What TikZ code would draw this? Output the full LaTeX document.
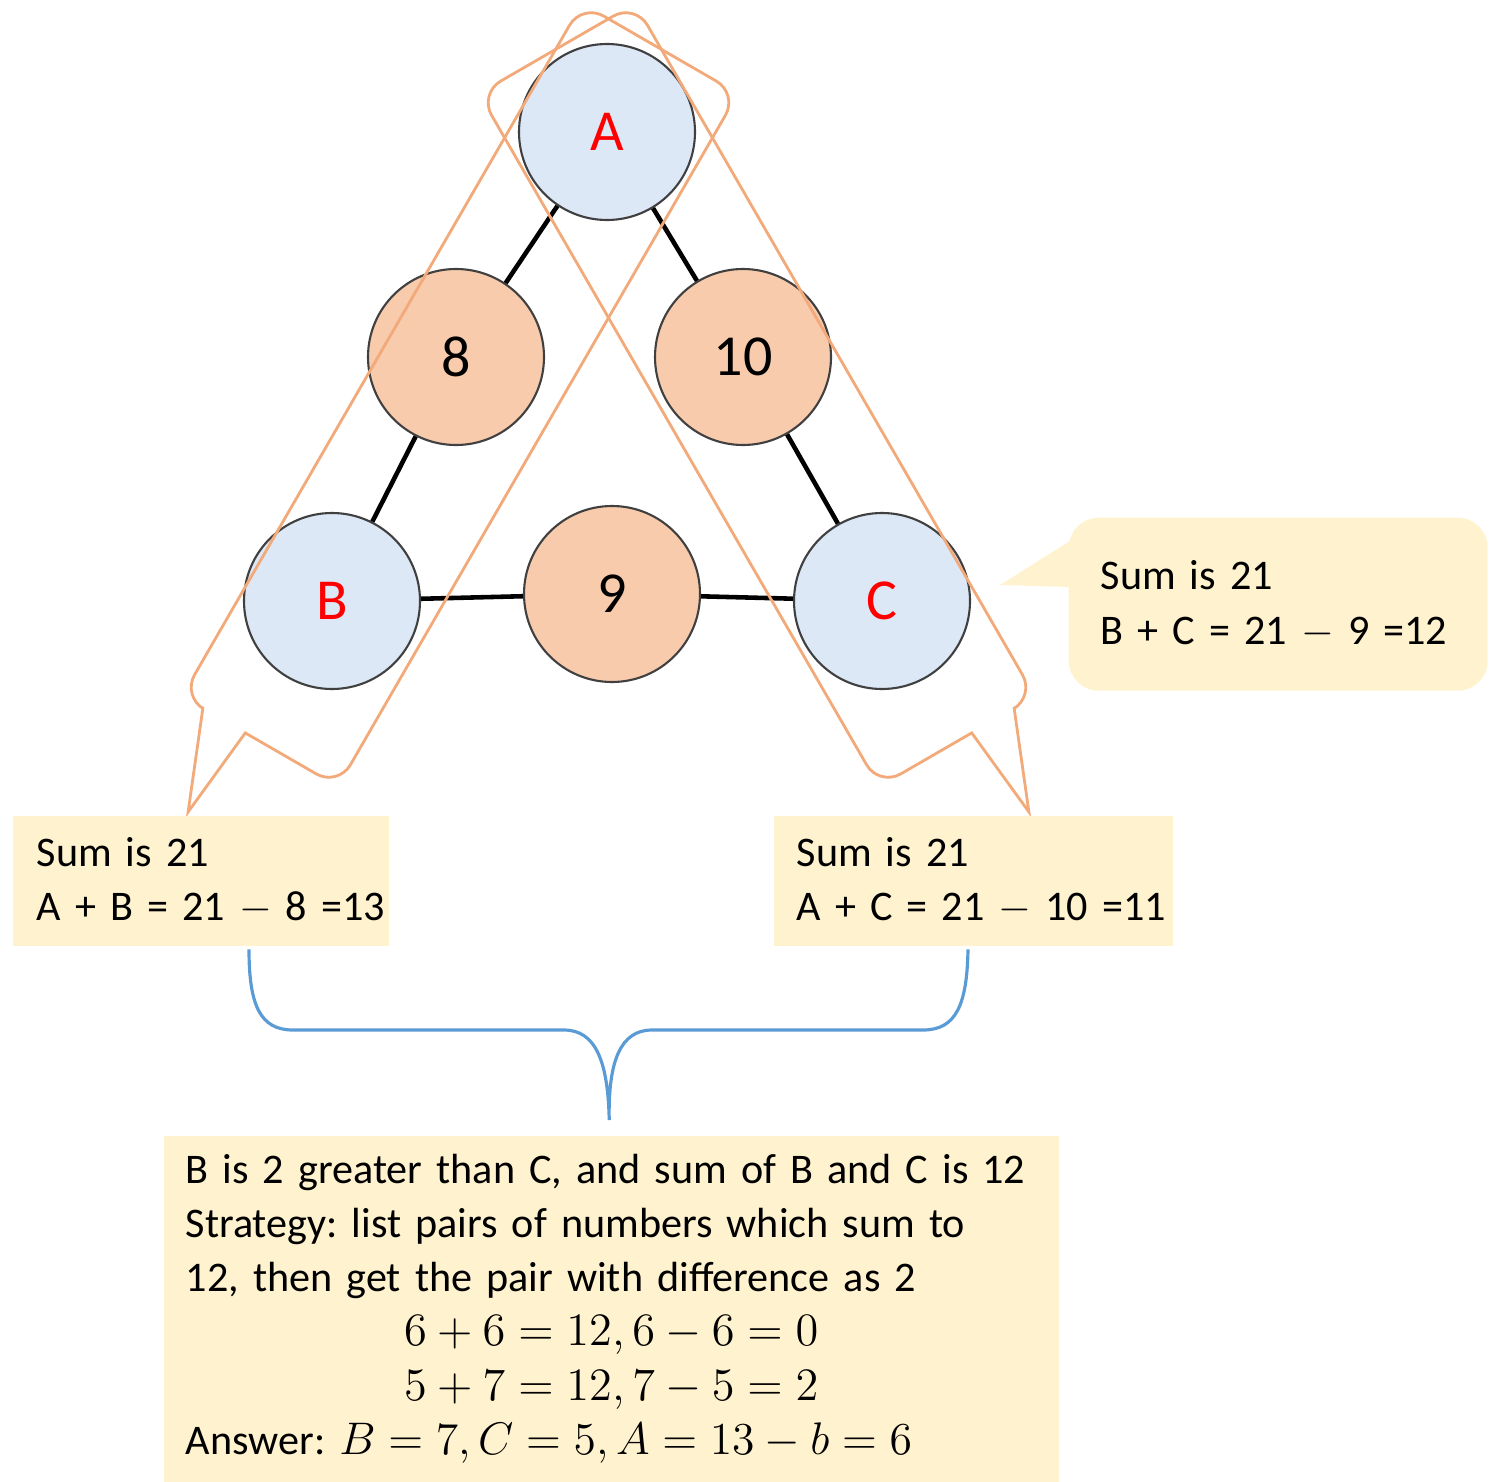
\RequirePackage{fix-cm}
\documentclass[tikz,border=0pt]{standalone}
\usepackage{fontspec}
\setmainfont{Carlito}[WordSpace=0.6]
\usetikzlibrary{calc,positioning}
\definecolor{ballblue}{RGB}{220,232,246}
\definecolor{ballorange}{RGB}{248,203,173}
\definecolor{noteyellow}{RGB}{255,242,206}
\definecolor{calloutline}{RGB}{242,170,122}
\definecolor{braceblue}{RGB}{91,155,213}
\frenchspacing
\newcommand{\eqline}[1]{\makebox[\dimexpr\linewidth-4.4mm\relax]{\fontsize{13.2}{15.4}\selectfont$#1$}}

\begin{document}
\begin{tikzpicture}[
  ball/.style={draw=black!75,line width=0.6pt,circle,minimum size=17.6mm,inner sep=0pt,font=\fontsize{16.5}{20}\selectfont},
  cornerball/.style={ball,fill=ballblue,text=red},
  sideball/.style={ball,fill=ballorange},
  link/.style={line width=1.3pt},
  note/.style={fill=noteyellow,align=left,anchor=north west,inner sep=0pt,
    execute at begin node={\leftskip=#1},font=\fontsize{12}{15.4}\selectfont},
  ribbon/.style={draw=calloutline,line width=0.8pt},
  brace/.style={draw=braceblue,line width=0.9pt}]
\useasboundingbox (0,0) rectangle (14.9,-14.81);

% the triangle of numbers
\node[cornerball] (A) at (6.07,-1.32) {A};
\node[sideball] (AB) at (4.56,-3.57) {8};
\node[sideball] (AC) at (7.43,-3.57) {10};
\node[cornerball] (B) at (3.32,-6.01) {B};
\node[sideball] (BC) at (6.12,-5.94) {9};
\node[cornerball] (C) at (8.82,-6.01) {C};
\draw[link] (A) -- (AB) -- (B) -- (BC) -- (C) -- (AC) -- (A);

% orange callouts round the two sides
\begin{scope}[shift={(4.60,-3.95)},rotate=-30]
\draw[ribbon] (-0.17,-4) -- (0.65,-4) arc[start angle=-90,end angle=0,radius=0.25]
  -- (0.9,3.75) arc[start angle=0,end angle=90,radius=0.25]
  -- (-0.65,4) arc[start angle=90,end angle=180,radius=0.25]
  -- (-0.9,-3.75) arc[start angle=180,end angle=270,radius=0.25]
  -- (-0.66,-4) -- (-0.27,-4.97) -- cycle;
\end{scope}
\begin{scope}[shift={(7.57,-3.95)},rotate=30]
\draw[ribbon] (0.17,-4) -- (-0.65,-4) arc[start angle=270,end angle=180,radius=0.25]
  -- (-0.9,3.75) arc[start angle=180,end angle=90,radius=0.25]
  -- (0.65,4) arc[start angle=90,end angle=0,radius=0.25]
  -- (0.9,-3.75) arc[start angle=0,end angle=-90,radius=0.25]
  -- (0.66,-4) -- (0.27,-4.97) -- cycle;
\end{scope}

% notes
\node[note=2.4mm,text width=3.76cm,minimum height=1.30cm] (ABsum) at (0.12,-8.15)
  {Sum is 21\\A + B = 21 $-$ 8 =13};
\node[note=2.3mm,text width=3.99cm,minimum height=1.30cm] (ACsum) at (7.73,-8.15)
  {Sum is 21\\A + C = 21 $-$ 10 =11};
\node[note=3.2mm,rounded corners=3mm,text width=4.19cm,minimum height=1.73cm] (BCsum) at (10.68,-5.17)
  {Sum is 21\\B + C = 21 $-$ 9 =12};
\fill[noteyellow] ($(BCsum.north west)+(0.02,-0.24)$) -- (10.00,-5.85) -- ($(BCsum.north west)+(0.02,-0.70)$) -- cycle;
\node[note=2.2mm,text width=8.95cm,minimum height=3.46cm] (answer) at (1.63,-11.35)
  {B is 2 greater than C, and sum of B and C is 12\\
   Strategy: list pairs of numbers which sum to\\
   12, then get the pair with difference as 2\\
   \eqline{6+6=12,6-6=0}\\
   \eqline{5+7=12,7-5=2}\\
   Answer: {\fontsize{13}{15.4}\selectfont$B=7,C=5,A=13-b=6$}};

% brace joining the two notes
\coordinate (bl) at ($(ABsum.south west)+(2.37,-0.03)$);
\coordinate (br) at ($(ACsum.south west)+(1.95,-0.03)$);
\coordinate (bt) at ($(answer.north)+(-0.02,0.15)$);
\draw[brace] (bl) .. controls (2.49,-10.05) and (2.60,-10.30) .. (2.93,-10.30) -- (5.64,-10.30)
  .. controls (5.95,-10.30) and (6.08,-10.60) .. (bt)
  .. controls (6.08,-10.60) and (6.21,-10.30) .. (6.52,-10.30) -- (9.23,-10.30)
  .. controls (9.56,-10.30) and (9.67,-10.05) .. (br);
\end{tikzpicture}
\end{document}
